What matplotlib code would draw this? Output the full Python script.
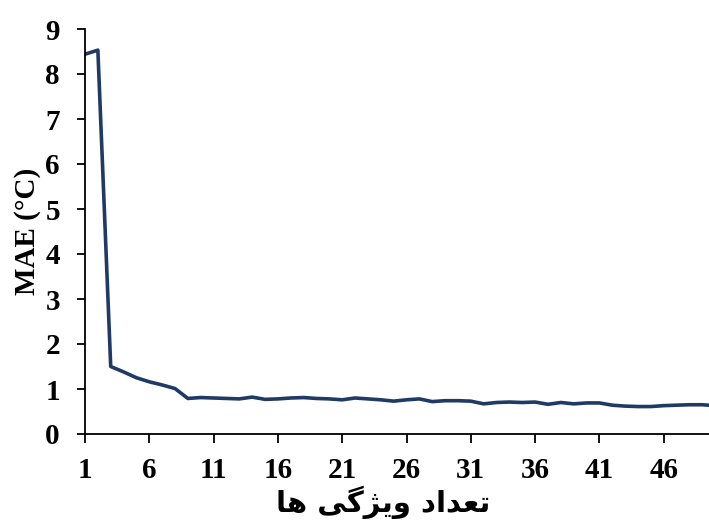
import matplotlib
matplotlib.use("Agg")
import matplotlib.pyplot as plt

# Number of features used and the resulting mean absolute error
n_features = list(range(1, 51))
mae = [8.44, 8.53, 1.50, 1.38, 1.25, 1.16, 1.09, 1.01, 0.79, 0.81,
       0.80, 0.79, 0.78, 0.82, 0.77, 0.78, 0.80, 0.81, 0.79, 0.78,
       0.76, 0.80, 0.78, 0.76, 0.73, 0.76, 0.78, 0.72, 0.74, 0.74,
       0.73, 0.67, 0.70, 0.71, 0.70, 0.71, 0.66, 0.70, 0.67, 0.69,
       0.69, 0.64, 0.62, 0.61, 0.61, 0.63, 0.64, 0.65, 0.65, 0.63]

x_ticks = [1, 6, 11, 16, 21, 26, 31, 36, 41, 46]
y_ticks = list(range(0, 10))

y_label = "MAE (°C)"
# "تعداد ویژگی ها" written with presentation forms in display order
x_label = "\uFE8E\uFEEB \uFBFD\uFB94\uFB8B\uFBFE\uFEED \uFEA9\uFE8D\uFEAA\uFECC\uFE97"

line_color = "#1F3A64"

plt.rcParams["font.family"] = ["Liberation Serif", "DejaVu Sans"]
plt.rcParams["font.weight"] = "bold"

fig = plt.figure(figsize=(7.09, 5.20), dpi=100)
ax = fig.add_axes([85 / 709, 86 / 520, 624 / 709, 405 / 520])

ax.plot(n_features, mae, color=line_color, linewidth=2.6, solid_joinstyle="round")

ax.set_xlim(1, 1 + 624 / 12.86)
ax.set_ylim(0, 9)
ax.set_xticks(x_ticks)
ax.set_yticks(y_ticks)
ax.set_xticklabels([str(v) for v in x_ticks], fontsize=21, fontweight="bold")
ax.set_yticklabels([str(v) for v in y_ticks], fontsize=21, fontweight="bold")

for side in ("top", "right"):
    ax.spines[side].set_visible(False)
for side in ("left", "bottom"):
    ax.spines[side].set_linewidth(1.3)
    ax.spines[side].set_color("black")

ax.tick_params(axis="x", direction="out", length=6.5, width=1.3, pad=10)
ax.tick_params(axis="y", direction="out", length=6, width=1.3, pad=12)

ax.set_ylabel(y_label, fontsize=21, fontweight="bold", labelpad=3)

fig.text(383 / 709, 1 - 502 / 520, x_label, ha="center", va="center",
         fontsize=21, fontweight="bold", family=["DejaVu Sans"])

fig.savefig("out.png", dpi=100)
